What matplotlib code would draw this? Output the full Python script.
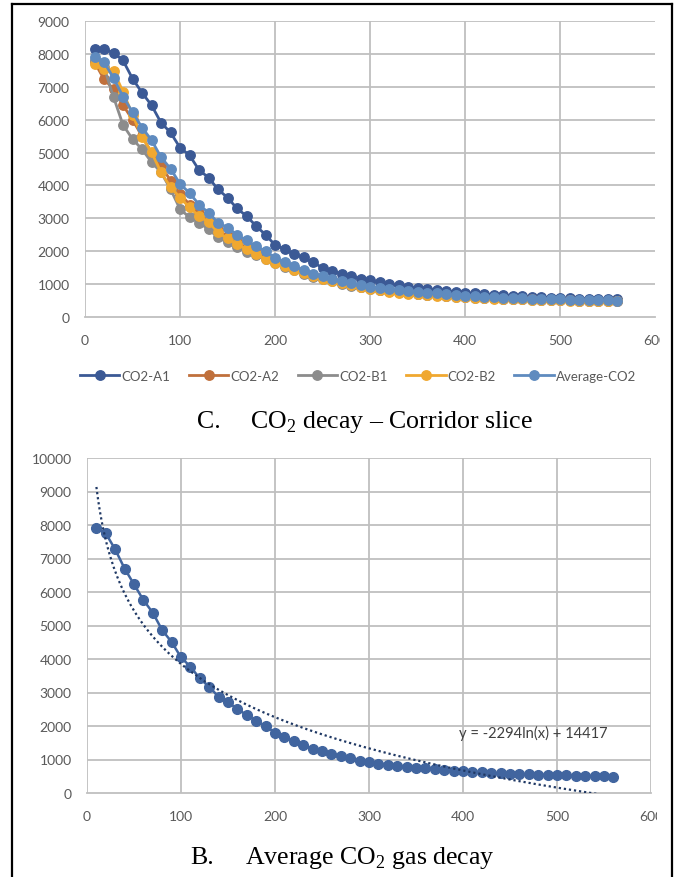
import numpy as np
import matplotlib
matplotlib.use("Agg")
import matplotlib.pyplot as plt
from matplotlib.lines import Line2D
from matplotlib.transforms import Bbox, TransformedBbox

plt.rcParams['font.family'] = ['Lato', 'DejaVu Sans']
plt.rcParams['mathtext.fontset'] = 'custom'
plt.rcParams['mathtext.rm'] = 'Liberation Serif'

# time (x) of each reading
minutes = list(range(10, 570, 10))

co2_a1 = [8160, 8140, 8040, 7800, 7250, 6820, 6440, 5910, 5610, 5150,
          4920, 4470, 4240, 3880, 3630, 3300, 3070, 2770, 2500, 2190,
          2060, 1910, 1810, 1660, 1500, 1400, 1320, 1240, 1170, 1110,
          1050, 1000, 960, 920, 880, 850, 820, 790, 760, 740,
          720, 700, 680, 660, 645, 630, 615, 600, 590, 580,
          570, 560, 555, 550, 545, 540]
co2_a2 = [7750, 7230, 6930, 6440, 6000, 5500, 5000, 4600, 4150, 3750,
          3420, 3150, 2900, 2650, 2450, 2270, 2110, 1960, 1820, 1690,
          1570, 1460, 1360, 1270, 1190, 1110, 1040, 980, 920, 870,
          830, 790, 760, 730, 700, 680, 660, 640, 625, 610,
          595, 580, 570, 560, 550, 540, 535, 525, 520, 510,
          505, 500, 495, 490, 485, 480]
co2_b1 = [7820, 7600, 6690, 5840, 5410, 5100, 4710, 4400, 3890, 3280,
          3030, 2870, 2670, 2420, 2270, 2120, 1990, 1870, 1760, 1640,
          1530, 1420, 1320, 1230, 1150, 1080, 1010, 950, 900, 850,
          810, 780, 750, 720, 700, 680, 660, 640, 620, 600,
          590, 575, 565, 555, 545, 540, 530, 525, 520, 510,
          505, 500, 495, 490, 485, 480]
co2_b2 = [7700, 7550, 7480, 6850, 6150, 5470, 5010, 4400, 3950, 3630,
          3330, 3070, 2890, 2570, 2390, 2210, 2060, 1910, 1760, 1650,
          1540, 1430, 1330, 1240, 1160, 1090, 1020, 960, 900, 850,
          810, 770, 740, 710, 690, 670, 650, 630, 610, 600,
          585, 570, 560, 550, 540, 535, 525, 520, 515, 505,
          500, 495, 490, 485, 480, 475]
co2_avg = [7900, 7750, 7270, 6700, 6230, 5760, 5380, 4860, 4510, 4050,
           3770, 3420, 3170, 2870, 2720, 2500, 2330, 2150, 2000, 1800,
           1680, 1540, 1430, 1320, 1250, 1160, 1100, 1030, 970, 920,
           880, 850, 820, 790, 760, 740, 720, 690, 670, 650,
           640, 620, 600, 590, 580, 570, 560, 550, 545, 540,
           530, 520, 515, 510, 505, 490]

series_names = ['CO2-A1', 'CO2-A2', 'CO2-B1', 'CO2-B2', 'Average-CO2']
series_colors = ['#3B5995', '#C0703C', '#8C8C8C', '#F0A830', '#5F8BBF']

# log trendline shown on chart B
trend_a = -2294
trend_b = 14417
trend_label = 'y = -2294ln(x) + 14417'

captions = [('C.', 'CO$_2$ decay \u2013 Corridor slice'),
            ('B.', 'Average CO$_2$ gas decay')]

W, H = 680, 878
fig = plt.figure(figsize=(W / 100, H / 100), dpi=100)


def fx(px):
    return px / W


def fy(py):
    return 1 - py / H


def style_axes(ax, ymax, grid_last_x):
    ax.set_xlim(0, 600)
    ax.set_ylim(0, ymax)
    ax.set_xticks(range(0, 700, 100))
    ax.set_yticks(range(0, ymax + 1, 1000))
    for s in ['top', 'left', 'right']:
        ax.spines[s].set_visible(False)
    ax.spines['bottom'].set_color('#BFBFBF')
    ax.spines['bottom'].set_linewidth(1.3)
    ax.grid(True, color='#BFBFBF', linewidth=1.3)
    ax.set_axisbelow(True)
    ax.tick_params(length=0, labelsize=10, labelcolor='#595959')
    ax.tick_params(axis='y', pad=11)
    ax.tick_params(axis='x', pad=12)
    if not grid_last_x:
        ax.xaxis.get_major_ticks()[-1].gridline.set_visible(False)
    ax.yaxis.get_major_ticks()[0].gridline.set_visible(False)


# ---- chart C : corridor slice
ax1 = fig.add_axes([fx(85), fy(318), fx(655 - 85), (318 - 22) / H])
data = [co2_a1, co2_a2, co2_b1, co2_b2, co2_avg]
for vals, name, col in zip(data, series_names, series_colors):
    ax1.plot(minutes, vals, '-o', color=col, lw=2, ms=6.8, mec=col,
             label=name, clip_on=False)
style_axes(ax1, 9000, False)

handles, labels = ax1.get_legend_handles_labels()
fig.legend(handles, labels, loc='center', bbox_to_anchor=(fx(358), fy(377)),
           ncol=5, frameon=False, fontsize=9.5, handlelength=3,
           handletextpad=0.15, columnspacing=1.4, labelcolor='#595959')

# ---- chart B : average
ax2 = fig.add_axes([fx(87), fy(794), fx(651 - 87), (794 - 459) / H])
ax2.plot(minutes, co2_avg, '-o', color='#41659F', lw=1.8, ms=7, mec='#41659F',
         zorder=3, clip_on=False)
xt = np.linspace(minutes[0], minutes[-1], 300)
ax2.plot(xt, trend_a * np.log(xt) + trend_b, color='#1F3864', lw=1.6,
         ls=(0, (1, 1.3)), zorder=4)
ax2.text(396, 1820, trend_label, fontsize=10.6, color='#404040', va='center')
style_axes(ax2, 10000, True)

# clip the right-most tick label like the original screenshot
for ax, xr in [(ax1, 660), (ax2, 657)]:
    clip = TransformedBbox(Bbox.from_extents(0, 0, fx(xr), 1), fig.transFigure)
    for t in ax.get_xticklabels():
        t.set_clip_on(True)
        t.set_clip_box(clip)

# captions
cap_kw = dict(fontsize=18.6, family='Liberation Serif')
fig.text(fx(197), fy(428), captions[0][0], **cap_kw)
fig.text(fx(250), fy(428), captions[0][1], **cap_kw)
fig.text(fx(190), fy(864), captions[1][0], **cap_kw)
fig.text(fx(245), fy(864), captions[1][1], **cap_kw)

# outer frame (left, top, right)
for xs, ys in [([12, 12], [H, 5]), ([12, 672], [5, 5]), ([672, 672], [5, H])]:
    fig.add_artist(Line2D([fx(x) for x in xs], [fy(y) for y in ys],
                          color='black', lw=1.6))

fig.savefig('out.png', dpi=100)
